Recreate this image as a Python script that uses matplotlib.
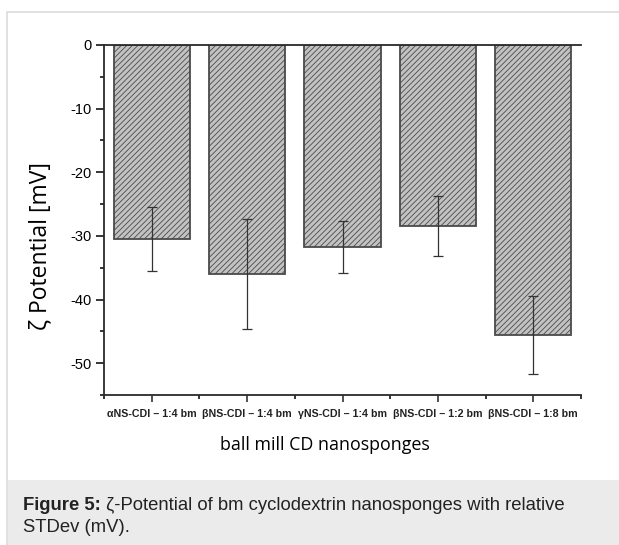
import matplotlib
matplotlib.use("Agg")

import matplotlib.pyplot as plt
from matplotlib.patches import Rectangle
from matplotlib.ticker import MultipleLocator

# data
samples = ["αNS-CDI – 1:4 bm", "βNS-CDI – 1:4 bm", "γNS-CDI – 1:4 bm",
           "βNS-CDI – 1:2 bm", "βNS-CDI – 1:8 bm"]
zeta_mv = [-30.5, -36.0, -31.7, -28.5, -45.6]
stdev_mv = [5.0, 8.7, 4.1, 4.7, 6.1]

plt.rcParams["axes.unicode_minus"] = False
plt.rcParams["hatch.color"] = "#9a9a9a"
plt.rcParams["hatch.linewidth"] = 0.6

W, H = 619, 545
fig = plt.figure(figsize=(W / 100, H / 100), dpi=100)

# page frame and caption box
fig.patches.append(Rectangle((7 / W, 0), 1, 1 - 12 / H, transform=fig.transFigure,
                             facecolor="white", edgecolor="#dcdcdc", lw=1.2, zorder=-10))
fig.patches.append(Rectangle((8 / W, 0), 1, 1 - 480 / H, transform=fig.transFigure,
                             facecolor="#ebebeb", edgecolor="none", zorder=-9))

ax = fig.add_axes([104 / W, 1 - 395 / H, 477 / W, 350 / H])
ax.patch.set_alpha(0)

x = list(range(1, len(samples) + 1))
ax.bar(x, zeta_mv, width=0.8, color="#c2c2c2", edgecolor="#4a4a4a",
       linewidth=1.3, hatch="//////", zorder=2)
ax.errorbar(x, zeta_mv, yerr=stdev_mv, fmt="none", ecolor="#333333",
            elinewidth=0.9, capsize=3.5, capthick=0.9, zorder=3)

ax.set_xlim(0.5, 5.5)
ax.set_ylim(-55, 0)

ax.spines["right"].set_visible(False)
for s in ["left", "bottom", "top"]:
    ax.spines[s].set_linewidth(1.3)
    ax.spines[s].set_color("#2a2a2a")

ax.set_xticks(x)
ax.set_xticklabels(samples, fontsize=7.7, fontweight="bold",
                   family=["Liberation Sans", "DejaVu Sans"])
ax.xaxis.set_minor_locator(MultipleLocator(0.5))
ax.yaxis.set_major_locator(MultipleLocator(10))
ax.yaxis.set_minor_locator(MultipleLocator(5))
ax.tick_params(axis="x", which="major", length=5, width=1.1, pad=5, colors="#222222")
ax.tick_params(axis="x", which="minor", length=3, width=1.1)
ax.tick_params(axis="y", which="major", length=6, width=1.1, labelsize=10.5, pad=3)
ax.tick_params(axis="y", which="minor", length=3, width=1.1)
for lab in ax.get_yticklabels():
    lab.set_family("Liberation Sans")

ax.set_ylabel("ζ Potential [mV]", fontsize=16.5, family=["Open Sans", "DejaVu Sans"])
ax.yaxis.set_label_coords(-0.108, 0.426)
ax.set_xlabel("ball mill CD nanosponges", fontsize=12.9, family=["Open Sans", "DejaVu Sans"])
ax.xaxis.set_label_coords(0.463, -0.117)

# caption
cap_font = ["Liberation Sans", "DejaVu Sans"]
t = fig.text(23 / W, 1 - 510 / H, "Figure 5:", fontsize=13.3, fontweight="bold",
             family=cap_font, va="baseline", color="#222222")
fig.canvas.draw()
bb = t.get_window_extent()
fig.text(bb.x1 / W, 1 - 510 / H, " ζ-Potential of bm cyclodextrin nanosponges with relative",
         fontsize=13.3, family=cap_font, va="baseline", color="#222222")
fig.text(23 / W, 1 - 532 / H, "STDev (mV).", fontsize=13.3, family=cap_font,
         va="baseline", color="#222222")

fig.savefig("out.png", dpi=100)
